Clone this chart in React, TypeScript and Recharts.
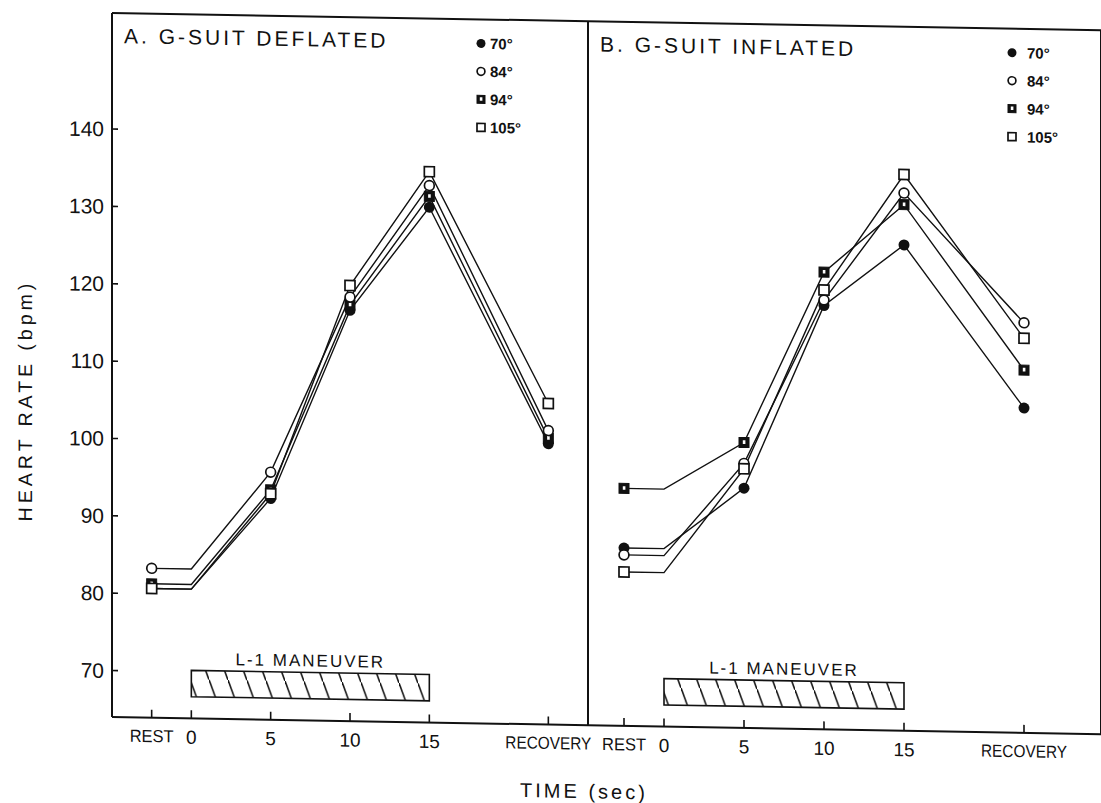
import React from 'react';
import { LineChart, Line, XAxis, YAxis, ReferenceArea } from 'recharts';

// Time axis: REST and RECOVERY sit outside the 0-15 s maneuver window
const timePoints = [-2.5, 0, 5, 10, 15, 22.5];
const timeTickLabels = ['REST', '0', '5', '10', '15', 'RECOVERY'];
const heartRateTicks = [70, 80, 90, 100, 110, 120, 130, 140];

// Seatback angles
const seriesLabels = ['70°', '84°', '94°', '105°'];

// A. G-suit deflated (bpm)
const deflated70 = [80.7, 80.7, 92.6, 117.1, 130.6, 100.3];
const deflated84 = [83.3, 83.3, 96.0, 118.8, 133.4, 102.0];
const deflated94 = [81.3, 81.3, 93.7, 117.8, 132.0, 101.0];
const deflated105 = [80.7, 80.7, 93.2, 120.3, 135.2, 105.5];

// B. G-suit inflated (bpm)
const inflated70 = [87.0, 87.0, 95.0, 118.8, 126.8, 106.0];
const inflated84 = [86.1, 86.1, 98.2, 119.5, 133.5, 117.0];
const inflated94 = [94.7, 94.7, 100.9, 123.1, 132.0, 110.9];
const inflated105 = [83.9, 83.9, 97.5, 120.8, 135.9, 115.0];

// L-1 maneuver window (seconds) and the band it is drawn in (bpm units)
const maneuverWindow = [0, 15];
const maneuverBand = [66.8, 70.2];

const hrDomain: [number, number] = [64, 155];
const domainA: [number, number] = [-5, 25];
const domainB: [number, number] = [-4.75, 27.3125];

const INK = '#111';
const FONT = '"Liberation Sans", Arial, Helvetica, sans-serif';

type MarkerKind = 'filledCircle' | 'openCircle' | 'darkSquare' | 'openSquare';
const markerKinds: MarkerKind[] = ['filledCircle', 'openCircle', 'darkSquare', 'openSquare'];
const seriesKeys = ['s70', 's84', 's94', 's105'];

function buildRows(a: number[], b: number[], c: number[], d: number[]) {
  return timePoints.map((t, i) => ({ t, s70: a[i], s84: b[i], s94: c[i], s105: d[i] }));
}

const deflatedRows = buildRows(deflated70, deflated84, deflated94, deflated105);
const inflatedRows = buildRows(inflated70, inflated84, inflated94, inflated105);

function Marker({ kind, x, y, size = 11 }: { kind: MarkerKind; x: number; y: number; size?: number }) {
  const h = size / 2;
  switch (kind) {
    case 'filledCircle':
      return <circle cx={x} cy={y} r={h} fill={INK} />;
    case 'openCircle':
      return <circle cx={x} cy={y} r={h - 0.6} fill="#fff" stroke={INK} strokeWidth={1.7} />;
    case 'darkSquare':
      return (
        <g>
          <rect x={x - h + 0.5} y={y - h + 0.5} width={size - 1} height={size - 1} fill={INK} stroke={INK} strokeWidth={1} />
          <rect x={x - 1.2} y={y - 2.2} width={2.6} height={3.6} fill="#fff" />
        </g>
      );
    default:
      return <rect x={x - h + 0.5} y={y - h + 0.5} width={size - 1} height={size - 1} fill="#fff" stroke={INK} strokeWidth={1.7} />;
  }
}

// Markers are not drawn at t = 0, where the resting level simply continues
const makeDot = (kind: MarkerKind, name: string) => (props: any) => {
  const { cx, cy, payload, index } = props;
  const key = `${name}-${index}`;
  if (cx == null || cy == null || !payload || payload.t === 0) return <g key={key} />;
  return (
    <g key={key}>
      <Marker kind={kind} x={cx} y={cy} />
    </g>
  );
};

// Word labels (REST / RECOVERY) are set in a narrowed face next to the second counts
const wordLabelWidth: Record<string, number> = { REST: 44, RECOVERY: 86 };

function TimeTick(props: any) {
  const { x, y, payload } = props;
  const i = timePoints.indexOf(payload.value);
  const label = i >= 0 ? timeTickLabels[i] : '';
  const narrowWidth = wordLabelWidth[label];
  return (
    <text
      x={x}
      y={y}
      dy="0.71em"
      textAnchor="middle"
      fontFamily={FONT}
      fontSize={narrowWidth ? 17.5 : 19}
      fill={INK}
      {...(narrowWidth ? { textLength: narrowWidth, lengthAdjust: 'spacingAndGlyphs' } : {})}
    >
      {label}
    </text>
  );
}

const axisLineStyle = { stroke: INK, strokeWidth: 2 };
const tickLineStyle = { stroke: INK, strokeWidth: 1.6 };

const maneuverLabel = (props: any) => {
  const vb = props.viewBox || {};
  return (
    <text
      x={vb.x + vb.width / 2}
      y={vb.y - 6}
      textAnchor="middle"
      fontFamily={FONT}
      fontSize={17}
      letterSpacing={2}
      fill={INK}
    >
      L-1 MANEUVER
    </text>
  );
};

// Draw order keeps the open squares on top
const drawOrder = [0, 2, 1, 3];

function seriesLines(prefix: string) {
  return drawOrder.map((i) => (
    <Line
      key={`${prefix}-${seriesKeys[i]}`}
      type="linear"
      dataKey={seriesKeys[i]}
      name={seriesLabels[i]}
      stroke={INK}
      strokeWidth={1.4}
      dot={makeDot(markerKinds[i], `${prefix}-${seriesKeys[i]}`)}
      activeDot={false}
      isAnimationActive={false}
    />
  ));
}

function Legend({ markerX, textX, top }: { markerX: number; textX: number; top: number }) {
  return (
    <g>
      {seriesLabels.map((label, i) => (
        <g key={label}>
          <Marker kind={markerKinds[i]} x={markerX} y={top + i * 28} size={9} />
          <text x={textX} y={top + i * 28 + 5.5} fontFamily={FONT} fontSize={15} fontWeight={700} fill={INK}>
            {label}
          </text>
        </g>
      ))}
    </g>
  );
}

function timeAxis(domain: [number, number]) {
  return (
    <XAxis
      dataKey="t"
      type="number"
      domain={domain}
      ticks={timePoints}
      interval={0}
      height={40}
      tickSize={-8}
      tickMargin={20}
      axisLine={axisLineStyle}
      tickLine={tickLineStyle}
      tick={<TimeTick />}
    />
  );
}

export default function App() {
  return (
    <div style={{ position: 'absolute', left: 0, top: 0, width: 1101, height: 803, overflow: 'hidden', background: '#fff' }}>
      <div style={{ position: 'absolute', left: 0, top: 0, width: 1101, height: 803, transform: 'skewY(1deg)', transformOrigin: '0 0' }}>
        <svg width={0} height={0} style={{ position: 'absolute' }}>
          <defs>
            <pattern id="maneuverHatch" patternUnits="userSpaceOnUse" width={19} height={52}>
              <path d="M-1,-2.7 L20,54.7" stroke={INK} strokeWidth={1.6} />
            </pattern>
          </defs>
        </svg>

        {/* A. G-suit deflated */}
        <div style={{ position: 'absolute', left: 0, top: 0 }}>
          <LineChart width={619} height={803} data={deflatedRows} margin={{ top: 10, right: 30, bottom: 48, left: 52 }}>
            <XAxis xAxisId="frameTop" orientation="top" type="number" domain={domainA} height={1} tick={false} tickLine={false} axisLine={axisLineStyle} />
            {timeAxis(domainA)}
            <YAxis
              type="number"
              domain={hrDomain}
              ticks={heartRateTicks}
              interval={0}
              width={60}
              tickSize={-6}
              tickMargin={14}
              axisLine={axisLineStyle}
              tickLine={tickLineStyle}
              tick={{ fill: INK, fontSize: 21, fontFamily: FONT }}
            />
            <YAxis yAxisId="frameRight" orientation="right" type="number" domain={hrDomain} ticks={heartRateTicks} interval={0} width={1} tickSize={-6} tick={false} axisLine={axisLineStyle} tickLine={tickLineStyle} />
            <ReferenceArea
              x1={maneuverWindow[0]}
              x2={maneuverWindow[1]}
              y1={maneuverBand[0]}
              y2={maneuverBand[1]}
              fill="url(#maneuverHatch)"
              fillOpacity={1}
              stroke={INK}
              strokeWidth={1.6}
              ifOverflow="visible"
              label={maneuverLabel}
            />
            {seriesLines('deflated')}
          </LineChart>
        </div>

        {/* B. G-suit inflated */}
        <div style={{ position: 'absolute', left: 586, top: 0 }}>
          <LineChart width={516} height={803} data={inflatedRows} margin={{ top: 10, right: 0, bottom: 48, left: 1 }}>
            <XAxis xAxisId="frameTop" orientation="top" type="number" domain={domainB} height={1} tick={false} tickLine={false} axisLine={axisLineStyle} />
            {timeAxis(domainB)}
            <YAxis type="number" domain={hrDomain} ticks={heartRateTicks} interval={0} width={1} tickSize={-6} tick={false} axisLine={axisLineStyle} tickLine={tickLineStyle} />
            <YAxis yAxisId="frameRight" orientation="right" type="number" domain={hrDomain} ticks={heartRateTicks} interval={0} width={1} tickSize={-6} tick={false} axisLine={axisLineStyle} tickLine={tickLineStyle} />
            <ReferenceArea
              x1={maneuverWindow[0]}
              x2={maneuverWindow[1]}
              y1={maneuverBand[0]}
              y2={maneuverBand[1]}
              fill="url(#maneuverHatch)"
              fillOpacity={1}
              stroke={INK}
              strokeWidth={1.6}
              ifOverflow="visible"
              label={maneuverLabel}
            />
            {seriesLines('inflated')}
          </LineChart>
        </div>

        {/* Titles, legends and axis titles */}
        <svg width={1101} height={803} style={{ position: 'absolute', left: 0, top: 0, pointerEvents: 'none' }}>
          <text x={124} y={41} fontFamily={FONT} fontSize={21} letterSpacing={3} fill={INK}>A. G-SUIT DEFLATED</text>
          <text x={600} y={41} fontFamily={FONT} fontSize={21} letterSpacing={3} fill={INK}>B. G-SUIT INFLATED</text>
          <Legend markerX={481} textX={490} top={35} />
          <Legend markerX={1012} textX={1027} top={35} />
          <text x={584} y={788} textAnchor="middle" fontFamily={FONT} fontSize={20} letterSpacing={3} fill={INK}>TIME (sec)</text>
          <text transform="rotate(-90)" x={-400} y={32} textAnchor="middle" fontFamily={FONT} fontSize={19.5} letterSpacing={4} fill={INK}>HEART RATE (bpm)</text>
        </svg>
      </div>
    </div>
  );
}
